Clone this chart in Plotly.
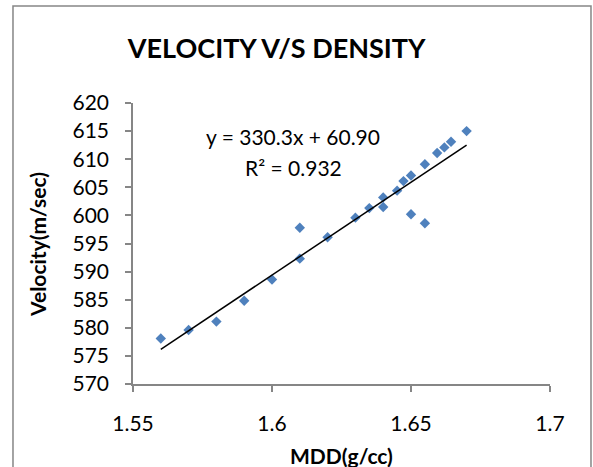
import plotly.graph_objects as go

# Data
mdd = [1.56, 1.57, 1.58, 1.59, 1.60, 1.61, 1.61, 1.62, 1.63, 1.635, 1.64, 1.64,
       1.645, 1.6473, 1.65, 1.65, 1.655, 1.655, 1.6594, 1.662, 1.6644, 1.67]
velocity = [578.1, 579.6, 581.1, 584.8, 588.6, 597.8, 592.3, 596.1, 599.6, 601.3, 603.2, 601.5,
            604.4, 606.1, 607.1, 600.2, 609.1, 598.6, 611.1, 612.1, 613.1, 615.0]

slope = 330.3
intercept = 60.90
r_squared = 0.932

x_ticks = [1.55, 1.6, 1.65, 1.7]
x_tick_labels = ["1.55", "1.6", "1.65", "1.7"]
y_ticks = list(range(570, 621, 5))

title_text = "VELOCITY V/S DENSITY"
x_title = "MDD(g/cc)"
y_title = "Velocity(m/sec)"

FONT = "Lato, Carlito, Calibri, sans-serif"
AXIS_COLOR = "#868686"
MARKER_COLOR = "#4F81BD"

trend_x = [min(mdd), max(mdd)]
trend_y = [slope * v + intercept for v in trend_x]

fig = go.Figure()
fig.add_trace(go.Scatter(
    x=mdd, y=velocity, mode="markers",
    marker=dict(symbol="diamond", size=8, color=MARKER_COLOR, line=dict(width=0)),
    showlegend=False, hoverinfo="x+y",
))
fig.add_trace(go.Scatter(
    x=trend_x, y=trend_y, mode="lines",
    line=dict(color="black", width=1.5),
    showlegend=False, hoverinfo="skip",
))

fig.update_layout(
    width=593, height=467,
    margin=dict(l=133, r=43, t=103, b=83),
    paper_bgcolor="white", plot_bgcolor="white",
    font=dict(family=FONT, size=21, color="black"),
    title=dict(text="<b>" + title_text + "</b>", x=0.4666, xref="container",
               y=1 - 49 / 467, yref="container", xanchor="center", yanchor="middle",
               font=dict(family=FONT, size=27, color="black")),
    xaxis=dict(range=[1.55, 1.7], tickvals=x_ticks, ticktext=x_tick_labels,
               showgrid=False, zeroline=False, showline=True, linecolor=AXIS_COLOR, linewidth=1.5,
               ticks="outside", ticklen=6, tickcolor=AXIS_COLOR, tickwidth=1.5,
               ticklabelstandoff=14,
               tickfont=dict(family=FONT, size=21, color="black")),
    yaxis=dict(range=[570, 620], tickvals=y_ticks,
               showgrid=False, zeroline=False, showline=True, linecolor=AXIS_COLOR, linewidth=1.5,
               ticks="outside", ticklen=6, tickcolor=AXIS_COLOR, tickwidth=1.5,
               ticklabelstandoff=12,
               tickfont=dict(family=FONT, size=21, color="black")),
    shapes=[dict(type="rect", xref="paper", yref="paper",
                 x0=-0.2878, x1=1.0983, y0=-0.4, y1=1.345,
                 line=dict(color=AXIS_COLOR, width=1.5), fillcolor="rgba(0,0,0,0)", layer="below")],
    annotations=[
        dict(text="y = %.1fx + %.2f" % (slope, intercept), x=1.6077, y=614.0, xref="x", yref="y",
             showarrow=False, xanchor="center", yanchor="middle",
             font=dict(family=FONT, size=21, color="black")),
        dict(text="R² = %.3f" % r_squared, x=1.6077, y=608.6, xref="x", yref="y",
             showarrow=False, xanchor="center", yanchor="middle",
             font=dict(family=FONT, size=21, color="black")),
        dict(text="<b>" + x_title + "</b>", x=0.5, y=-0.253, xref="paper", yref="paper",
             showarrow=False, xanchor="center", yanchor="middle",
             font=dict(family=FONT, size=21, color="black")),
        dict(text="<b>" + y_title + "</b>", x=-0.2278, y=0.4947, xref="paper", yref="paper",
             showarrow=False, xanchor="center", yanchor="middle", textangle=-90,
             font=dict(family=FONT, size=21, color="black")),
    ],
)

fig.write_html("out.html", config={"displayModeBar": False},
               post_script="document.body.style.margin='0';document.body.style.overflow='hidden';")
